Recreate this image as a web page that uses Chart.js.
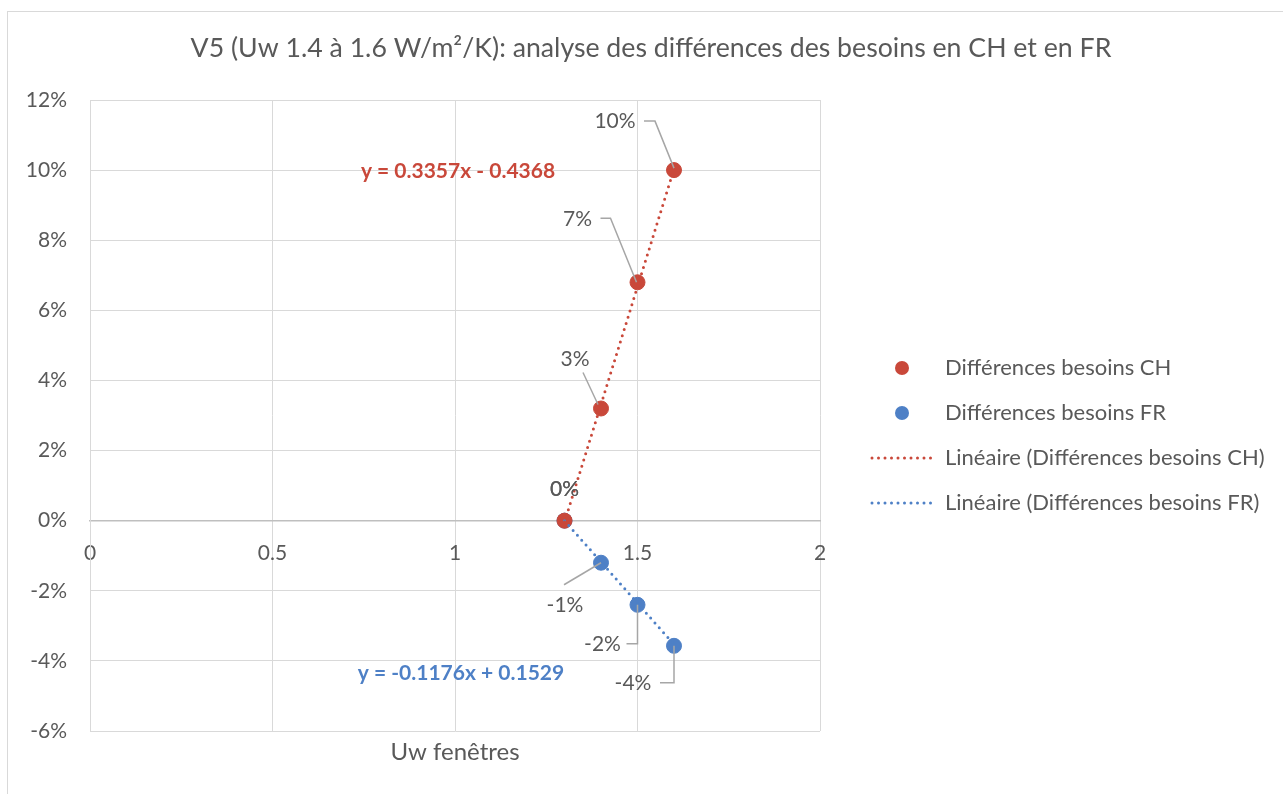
<!DOCTYPE html>
<html lang="fr">
<head>
<meta charset="UTF-8">
<title>V5 - différences des besoins CH et FR</title>
<style>
  body { margin: 0; padding: 0; background: #fff; }
  #wrap { width: 1283px; height: 794px; position: relative; }
</style>
</head>
<body>
<div id="wrap">
  <canvas id="chart" width="1283" height="794"></canvas>
</div>
<script src="https://cdn.jsdelivr.net/npm/chart.js"></script>
<script>
// --- data ---
const uwValues = [1.3, 1.4, 1.5, 1.6];
const diffCH = [0, 0.032, 0.068, 0.100];
const diffFR = [0, -0.012, -0.024, -0.0357];
const trendX = [1.3, 1.6];
const trendCH = [-0.0004, 0.1003];
const trendFR = [0.0000, -0.0353];
const eqCH = 'y = 0.3357x - 0.4368';
const eqFR = 'y = -0.1176x + 0.1529';
const seriesNames = ['Différences besoins CH', 'Différences besoins FR',
  'Linéaire (Différences besoins CH)', 'Linéaire (Différences besoins FR)'];
const chartTitle = 'V5 (Uw 1.4 à 1.6 W/m²/K): analyse des différences des besoins en CH et en FR';
const xTitle = 'Uw fenêtres';

const RED = '#c9483a';
const BLUE = '#4e80c6';
const GREY = '#595959';
const FONT = 'Lato, "Open Sans", sans-serif';

// label offsets (pixels from point) and leader line bends
const labelPos = [
  [ {dx: 0, dy: -31}, {dx: -26, dy: -49, leader: [[-18, -36], [-3, -4]]},
    {dx: -60, dy: -63, leader: [[-37, -64], [-27, -64], [-1, 0]]},
    {dx: -59, dy: -49, leader: [[-30, -49], [-19, -49], [0, -2]]} ],
  [ {dx: 0, dy: -31}, {dx: -36, dy: 43, leader: [[-37, 22], [0, 0]]},
    {dx: -35, dy: 39, leader: [[-11, 39], [0, 39], [0, 0]]},
    {dx: -41, dy: 37, leader: [[-14, 37], [0, 37], [0, 0]]} ]
];

function pts(xs, ys) { return xs.map((x, i) => ({x: x, y: ys[i]})); }
function pct(v) { return Math.round(v * 100) + '%'; }

const decorPlugin = {
  id: 'decor',
  beforeDraw(chart) {
    const c = chart.ctx;
    c.save();
    c.fillStyle = '#fff';
    c.fillRect(0, 0, chart.width, chart.height);
    c.strokeStyle = '#d9d9d9';
    c.lineWidth = 1;
    c.strokeRect(7.5, 11.5, 1400, 900);
    c.restore();
  },
  afterDatasetsDraw(chart) {
    const c = chart.ctx;
    c.save();
    // data labels with leader lines
    [0, 1].forEach(di => {
      const meta = chart.getDatasetMeta(di);
      meta.data.forEach((p, i) => {
        const lp = labelPos[di][i];
        if (lp.leader) {
          c.strokeStyle = '#a6a6a6';
          c.lineWidth = 1.5;
          c.beginPath();
          lp.leader.forEach((q, k) => {
            if (k === 0) c.moveTo(p.x + q[0], p.y + q[1]);
            else c.lineTo(p.x + q[0], p.y + q[1]);
          });
          c.stroke();
        }
        c.fillStyle = GREY;
        c.font = '21px ' + FONT;
        c.textAlign = 'center';
        c.textBaseline = 'middle';
        c.fillText(pct(chart.data.datasets[di].data[i].y), p.x + lp.dx, p.y + lp.dy);
      });
    });
    // trendline equations
    c.font = 'bold 21px ' + FONT;
    c.textAlign = 'center';
    c.textBaseline = 'middle';
    c.fillStyle = RED;
    c.fillText(eqCH, 458, 171);
    c.fillStyle = BLUE;
    c.fillText(eqFR, 461, 673);
    c.restore();
  },
  afterDraw(chart) {
    const c = chart.ctx;
    const area = chart.chartArea;
    c.save();
    c.fillStyle = GREY;
    c.textAlign = 'center';
    c.textBaseline = 'middle';
    c.font = '26.7px ' + FONT;
    c.fillText(chartTitle, 651, 48);
    c.font = '24px ' + FONT;
    c.fillText(xTitle, (area.left + area.right) / 2, 752);
    // legend
    const lx = 902, tx = 945, rows = [368, 413, 458, 503];
    const cols = [RED, BLUE, RED, BLUE];
    c.textAlign = 'left';
    c.font = '22px ' + FONT;
    rows.forEach((y, i) => {
      if (i < 2) {
        c.fillStyle = cols[i];
        c.beginPath();
        c.arc(lx, y, 7, 0, Math.PI * 2);
        c.fill();
      } else {
        c.strokeStyle = cols[i];
        c.lineWidth = 3;
        c.lineCap = 'round';
        c.setLineDash([0, 6.5]);
        c.beginPath();
        c.moveTo(872, y);
        c.lineTo(935, y);
        c.stroke();
        c.setLineDash([]);
      }
      c.fillStyle = GREY;
      c.fillText(seriesNames[i], tx, y);
    });
    c.restore();
  }
};

new Chart(document.getElementById('chart'), {
  type: 'scatter',
  data: {
    datasets: [
      { label: seriesNames[0], data: pts(uwValues, diffCH), backgroundColor: RED, borderColor: RED,
        pointRadius: 7.5, order: 2 },
      { label: seriesNames[1], data: pts(uwValues, diffFR), backgroundColor: BLUE, borderColor: BLUE,
        pointRadius: 7.5, order: 3 },
      { label: seriesNames[2], type: 'line', data: pts(trendX, trendCH), borderColor: RED,
        borderWidth: 3, borderDash: [0, 6.5], borderCapStyle: 'round', pointRadius: 0, fill: false, order: 1 },
      { label: seriesNames[3], type: 'line', data: pts(trendX, trendFR), borderColor: BLUE,
        borderWidth: 3, borderDash: [0, 6.5], borderCapStyle: 'round', pointRadius: 0, fill: false, order: 1 }
    ]
  },
  options: {
    responsive: false,
    animation: false,
    events: [],
    layout: { padding: { top: 100, left: 0, right: 463, bottom: 63 } },
    plugins: {
      legend: { display: false },
      title: { display: false },
      tooltip: { enabled: false }
    },
    scales: {
      x: {
        type: 'linear',
        position: { y: 0 },
        min: 0, max: 2,
        ticks: { stepSize: 0.5, color: GREY, font: { family: FONT, size: 21 }, padding: 20,
          callback: v => String(v) },
        grid: { color: '#d9d9d9', drawTicks: false, lineWidth: 1 },
        border: { color: '#bfbfbf', width: 1.5 }
      },
      y: {
        min: -0.06, max: 0.12,
        ticks: { stepSize: 0.02, color: GREY, font: { family: FONT, size: 21 }, padding: 23,
          callback: v => pct(v) },
        grid: { color: '#d9d9d9', drawTicks: false, lineWidth: 1 },
        border: { color: '#d9d9d9' },
        afterFit(scale) { scale.width = 90; }
      }
    }
  },
  plugins: [decorPlugin]
});
</script>
</body>
</html>
